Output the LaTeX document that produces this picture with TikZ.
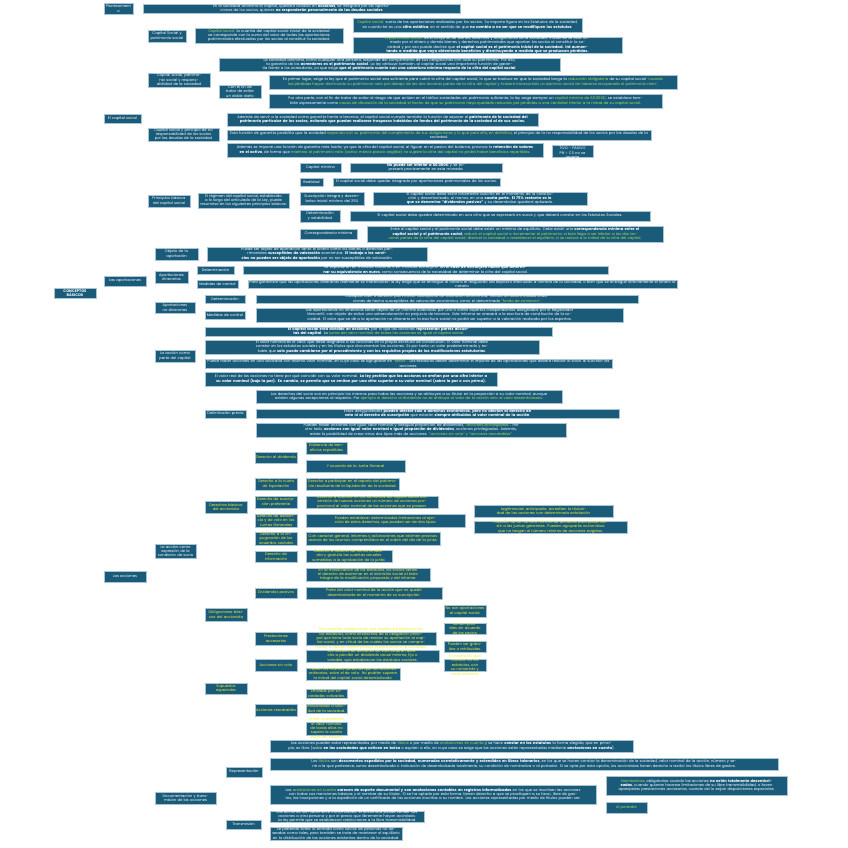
\documentclass[tikz,border=0pt]{standalone}
\usepackage{fontspec}
\setmainfont{Poppins}
\usetikzlibrary{calc}
\definecolor{boxc}{HTML}{1A5B7A}
\definecolor{edgec}{HTML}{A9C5D5}
\definecolor{linec}{HTML}{86A9BC}
\definecolor{grn}{HTML}{A6E05A}
\definecolor{ylw}{HTML}{F0F032}
\newcommand\hg[1]{\textcolor{grn}{#1}}
\pgfdeclarelayer{bg}
\pgfsetlayers{bg,main}
\tikzset{
  boxst/.style={draw=edgec,line width=0.6pt,fill=boxc,inner sep=0pt,outer sep=0pt},
  txt/.style={inner sep=0pt,outer sep=0pt,align=center,font=\fontsize{3.7}{4.4}\selectfont},
  conn/.style={draw=linec,line width=1.2pt,rounded corners=1.5pt}
}
% #1 text colour, #2 name, #3 x1, #4 y1, #5 x2, #6 y2, #7 text
\newcommand\mybx[7][white]{%
  \pgfmathsetmacro\bxcx{(#3+#5)/2}%
  \pgfmathsetmacro\bxcy{(#4+#6)/2}%
  \pgfmathsetmacro\bxw{#5-#3}%
  \pgfmathsetmacro\bxh{#6-#4}%
  \pgfmathsetmacro\bxtw{#5-#3-2}%
  \node[boxst,minimum width=\bxw pt,minimum height=\bxh pt] (#2) at (\bxcx,\bxcy) {};
  \node[txt,text=#1,text width=\bxtw pt] (#2-t) at (#2.center) {#7};
}
\newcommand\mycn[3]{\draw[conn] (#1.east) -- (#1.east -| #2) |- (#3.west);}
\newcommand\mylk[2]{\draw[conn] (#1.east) -- (#1.east -| #2.west);}
\begin{document}
\begin{tikzpicture}[x=1pt,y=-1pt]
\fill[white] (0,0) rectangle (848,848);
\useasboundingbox (0,0) rectangle (848,848);

% ---------- level 0 / 1 ----------
\mybx{root}{54}{288}{96}{298}{\textbf{CONCEPTOS BÁSICOS}}
\mybx{plan}{104}{3}{133}{14}{Planteamient\\o}
\mybx{cs}{104}{114}{141}{123}{El capital social}
\mybx{ap}{104}{276}{146}{286}{Las aportaciones}
\mybx{ac}{104}{571}{146}{582}{Las acciones}

\mybx{planT}{143}{4}{460}{13}{En la sociedad anónima el capital, quedará dividido en \textbf{acciones}, se integrará por las aportaciones de los socios, quienes \textbf{no responderán personalmente de las deudas sociales}}

% ---------- El capital social ----------
\mybx{csA}{148}{30}{186}{42}{Capital Social y patrimonio social}
\mybx{csB}{148}{73}{210}{87}{Capital social, patrimonio social y responsabilidad de la sociedad}
\mybx{csC}{148}{128}{219}{141}{Capital social y principio de no responsabilidad de los socios por las deudas de la sociedad}
\mybx{csD}{148}{195}{190}{207}{Principios básicos del capital social}

\mybx{csA1}{195}{28}{343}{43}{\hg{Capital social:} la cuantía del capital social inicial de la sociedad se corresponde con la suma del valor de todas las aportaciones patrimoniales efectuadas por los socios al constituir la sociedad.}
\mybx{csA1a}{353}{18}{582}{32}{\hg{Capital social:} suma de las aportaciones realizadas por los socios. Su importe figura en los Estatutos de la sociedad, en cuanto tal es una \textbf{cifra estática}, en el sentido de que \textbf{no cambia a no ser que se modifiquen los estatutos}.}
\mybx{csA1b}{353}{37}{622}{53}{\hg{El patrimonio social:} es el conjunto de bienes, derechos y obligaciones de la sociedad. Inicialmente está formado por el dinero y demás bienes y derechos patrimoniales que aportan los socios al constituir la sociedad y por eso puede decirse que \textbf{el capital social es el patrimonio inicial de la sociedad. Irá aumentando a medida que vaya obteniendo beneficios y disminuyendo a medida que se produzcan pérdidas.}}

\mybx{csB1}{219}{58}{560}{71}{La sociedad anónima, como cualquier otra persona, responde del cumplimiento de sus obligaciones con todo su patrimonio. Por ello, la garantía de los \textbf{acreedores es el patrimonio social}. La ley atribuye también, al capital social una importante función de garantía frente a los acreedores, ya que exige \textbf{que el patrimonio cuente con una cobertura mínima respecto de la cifra del capital social}.}
\mybx{csB2}{219}{85}{261}{98}{Con el fin de tratar de evitar un doble daño}
\mybx{csB2a}{269}{75}{677}{89}{En primer lugar, exige la ley que el patrimonio social sea suficiente para cubrir la cifra del capital social, lo que se traduce en que la sociedad tenga la \hg{reducción obligatoria} de su capital social \hg{“cuando las pérdidas hayan disminuido su patrimonio neto por debajo de las dos terceras partes de la cifra del capital y hubiere transcurrido un ejercicio social sin haberse recuperado el patrimonio neto”}.}
\mybx{csB2b}{269}{94}{662}{108}{Por otra parte, con el fin de tratar de evitar el riesgo de que actúen en el tráfico sociedades sin patrimonio suficiente, la ley exige siempre un \hg{capital mínimo de 60.000€}, se establece también expresamente como \hg{causa de disolución de la sociedad el hecho de que su patrimonio haya quedado reducido por pérdidas a una cantidad inferior a la mitad de su capital social}.}

\mybx{csC1}{227}{113}{538}{126}{Además de servir a la sociedad como garantía frente a terceros, el capital social cumple también la función de separar el \textbf{patrimonio de la sociedad del patrimonio particular de los socios, evitando que puedan realizarse traspasos indebidos de fondos del patrimonio de la sociedad al de sus socios.}}
\mybx{csC2}{227}{130}{651}{140}{Esta función de garantía posibilita que la sociedad \hg{responda con su patrimonio del cumplimiento de sus obligaciones y lo que para ella, en definitiva}, el principio de la no responsabilidad de los socios por las deudas de la sociedad.}
\mybx{csC3}{227}{143}{543}{157}{Además se impone una función de garantía más fuerte, ya que la cifra del capital social, al figurar en el pasivo del balance, provoca la \textbf{retención de valores en el activo}, de forma que \hg{mientras el patrimonio neto (activo menos pasivo exigible) no supere la cifra del capital no podrá haber beneficios repartibles.}}
\mybx{csC3a}{552}{145}{593}{157}{PN = ACTIVO - PASIVO\\PN < CS no se\\reparte}

\mybx{csD1}{198}{193}{289}{208}{El régimen del capital social, establecido a lo largo del articulado de la Ley, puede resumirse en los siguientes principios básicos:}
\mybx{pa}{300}{163}{341}{172}{Capital mínimo}
\mybx{pat}{350}{163}{502}{172}{\textbf{No puede ser inferior a 60.000€} y se expresará precisamente en esta moneda.}
\mybx{pb}{300}{178}{323}{186}{Realidad}
\mybx{pbt}{333}{178}{500}{186}{El capital social debe quedar integrado por aportaciones patrimoniales de los socios.}
\mybx{pc}{300}{192}{364}{205}{Suscripción íntegra y desembolso inicial mínimo del 25\%}
\mybx{pct}{373}{192}{587}{205}{El capital social debe estar totalmente suscrito en el momento de la constitución y desembolsado, al menos, en una \textbf{cuarta parte. El 75\% restante es lo que se denomina “dividendos pasivos”} y su desembolso quedará aplazado.}
\mybx{pd}{300}{210}{340}{222}{Determinación y estabilidad}
\mybx{pdt}{350}{211}{650}{221}{El capital social debe quedar determinado en una cifra que se expresará en euros y que deberá constar en los Estatutos Sociales.}
\mybx{pe}{300}{229}{357}{239}{Correspondencia mínima}
\mybx{pet}{367}{226}{663}{242}{Entre el capital social y el patrimonio social debe existir un mínimo de equilibrio. Debe existir una \textbf{correspondencia mínima entre el capital social y el patrimonio social}; \hg{reducir el capital social o incrementar el patrimonio, si éste llega a ser inferior a las dos terceras partes de la cifra del capital social; disolver la sociedad o restablecer el equilibrio, si se reduce a la mitad de la cifra del capital.}}

% ---------- Las aportaciones ----------
\mybx{apA}{155}{248}{198}{260}{Objeto de la aportación}
\mybx{apA1}{207}{247}{427}{261}{Puede ser objeto de aportación tanto el dinero como los bienes o derechos patrimoniales \textbf{susceptibles de valoración} económica. \textbf{El trabajo o los servicios no pueden ser objeto de aportación} por no ser susceptibles de valoración.}
\mybx{apB}{155}{271}{188}{283}{Aportaciones dinerarias}
\mybx{apB1}{197}{266}{234}{274}{Determinación}
\mybx{apB1t}{243}{266}{608}{274}{Se expresarán en moneda nacional o en moneda extranjera. \textbf{En el caso de extranjera habrá que determinar su equivalencia en euros}, como consecuencia de la necesidad de determinar la cifra del capital social.}
\mybx{apB2}{197}{280}{238}{288}{Medidas de control}
\mybx{apB2t}{248}{280}{677}{288}{Para garantizar que las aportaciones dinerarias realmente se materialicen la ley exige que se entregue al notario el resguardo del depósito efectuado a nombre de la sociedad, o bien que se entregue directamente el dinero al notario.}
\mybx{apC}{155}{302}{195}{313}{Aportaciones no dinerarias}
\mybx{apC1}{205}{295}{245}{303}{Determinación}
\mybx{apC1t}{256}{295}{638}{303}{Cualquier bien o derecho patrimonial susceptible de valoración económica. Incluso en determinadas situaciones de hecho susceptibles de valoración económica, como el denominado \hg{“fondo de comercio”}.}
\mybx{apC2}{205}{311}{245}{319}{Medidas de control}
\mybx{apC2t}{256}{308}{623}{322}{Las aportaciones no dinerarias serán objeto de un informe elaborado por uno o varios expertos independientes designados por el Registrador Mercantil, con objeto de evitar una sobrevaloración en perjuicio de terceros. Este informe se anexará a la escritura de constitución de la sociedad. El valor que se dé a la aportación no dineraria en la escritura social no podrá ser superior a la valoración realizada por los expertos.}

% ---------- Las acciones ----------
\mybx{acA}{155}{350}{195}{362}{La acción como parte del capital}
\mybx{acA1}{205}{327}{552}{336}{\textbf{El capital social está dividido en acciones}, por lo que las acciones \textbf{representan partes alícuotas del capital}. La \hg{suma del valor nominal de todas las acciones es igual al capital social}.}
\mybx{acA2}{205}{340}{539}{354}{El valor nominal es el valor que debe asignarse a las acciones en la propia escritura de constitución. El valor nominal debe constar en los estatutos sociales y en los títulos que documentan las acciones. Es por tanto un valor predeterminado y estable que \textbf{solo puede cambiarse por el procedimiento y con los requisitos propios de las modificaciones estatutarias}.}
\mybx{acA3}{205}{359}{612}{368}{Puede haber acciones en una sociedad con distinto valor nominal, en cuyo caso se agruparán en \hg{“series”}. Los estatutos deben determinar el importe de las aportaciones que deberá realizar el socio al suscribir las acciones.}
\mybx{acA4}{205}{372}{497}{386}{El valor real de las acciones no tiene por qué coincidir con su valor nominal. \textbf{La ley prohíbe que las acciones se emitan por una cifra inferior a su valor nominal (bajo la par). En cambio, se permite que se emitan por una cifra superior a su valor nominal (sobre la par o con prima).}}

\mybx{acB}{155}{544}{196}{558}{La acción como expresión de la condición de socio}
\mybx{acB1}{205}{410}{246}{418}{Delimitación previa}
\mybx{acB1a}{256}{390}{562}{403}{Los derechos del socio son en principio los mismos para todas las acciones y se atribuyen a su titular en la proporción a su valor nominal, aunque existen algunas excepciones al respecto. Por \hg{ejemplo el derecho al dividendo no se atribuye al valor de la acción sino al valor desembolsado}.}
\mybx{acB1b}{256}{409}{619}{418}{Estas desigualdades \textbf{pueden afectar solo a derechos económicos, pero no afectan al derecho de voto ni al derecho de suscripción} que estarán \textbf{siempre atribuidos al valor nominal de la acción}.}
\mybx{acB1c}{256}{423}{566}{437}{Pueden haber acciones con igual valor nominal y desigual proporción de dividendos, \hg{“acciones privilegiadas”}. Por otro lado, \textbf{acciones con igual valor nominal e igual proporción de dividendos}, acciones privilegiadas. Además, existe la posibilidad de crear otros dos tipos más de acciones: \hg{“acciones sin voto” y “acciones rescatables”}}

\mybx[ylw]{acB2}{205}{501}{247}{513}{Derechos básicos del accionista}
\mybx[ylw]{d1}{255}{452}{297}{463}{Derecho al dividendo}
\mybx[ylw]{d1a}{306}{442}{347}{454}{Existencia de beneficios repartibles}
\mybx[ylw]{d1b}{306}{460}{405}{472}{Y acuerdo de la Junta General}
\mybx[ylw]{d2}{255}{478}{297}{490}{Derecho a la cuota de liquidación}
\mybx[ylw]{d2a}{306}{478}{399}{490}{Derecho a participar en el reparto del patrimonio resultante de la liquidación de la sociedad.}
\mybx[ylw]{d3}{255}{496}{297}{508}{Derecho de suscripción preferente}
\mybx[ylw]{d3a}{306}{496}{438}{508}{Derecho a suscribir en los aumentos del capital social con emisión de nuevas acciones un número de acciones proporcional al valor nominal de las acciones que se posean.}
\mybx[ylw]{d4}{255}{514}{297}{527}{Derecho de asistencia y de voto en las Juntas Generales}
\mybx[ylw]{d4a}{306}{514}{465}{527}{Pueden establecer determinadas limitaciones al ejercicio de estos derechos, que pueden ser de dos tipos:}
\mybx[ylw]{d4a1}{474}{505}{613}{517}{Legitimación anticipada: acrediten la titularidad de las acciones con determinada antelación}
\mybx[ylw]{d4a2}{474}{521}{627}{533}{Posesión de un número mínimo de acciones para poder asistir a las juntas generales. Pueden agruparse accionistas que no tengan el número mínimo de acciones exigidas.}
\mybx[ylw]{d5}{255}{532}{297}{545}{Derecho a la impugnación de los acuerdos sociales}
\mybx[ylw]{d6}{255}{551}{297}{562}{Derecho de información}
\mybx[ylw]{d6a}{306}{532}{440}{545}{Con carácter general, informes y aclaraciones que estimen precisos acerca de los asuntos comprendidos en el orden del día de la junta.}
\mybx[ylw]{d6b}{306}{550}{392}{562}{Derecho a obtener de forma inmediata y gratuita las cuentas anuales sometidas a la aprobación de la junta.}
\mybx[ylw]{d6c}{306}{568}{430}{581}{En la modificación de los estatutos, los socios tienen el derecho de examinar en el domicilio social el texto íntegro de la modificación propuesta y del informe.}

\mybx[ylw]{acB3}{205}{608}{247}{621}{Obligaciones básicas del accionista}
\mybx[ylw]{o1}{255}{588}{297}{598}{Dividendos pasivos}
\mybx[ylw]{o1a}{306}{587}{442}{599}{Parte del valor nominal de la acción que no quedó desembolsada en el momento de su suscripción.}
\mybx[ylw]{o2}{255}{632}{297}{645}{Prestaciones accesorias}
\mybx[ylw]{o2a}{306}{632}{436}{645}{Son aquellas obligaciones que pueden establecerse en los estatutos, como accesorias de la obligación principal que tiene todo socio de realizar su aportación al capital social, y en virtud de las cuales los socios se comprometen a realizar determinadas prestaciones a la sociedad.}
\mybx[ylw]{o2a1}{444}{605}{486}{617}{No son aportaciones al capital social.}
\mybx[ylw]{o2a2}{444}{623}{486}{634}{No son posibles sin acuerdo de los socios.}
\mybx[ylw]{o2a3}{444}{641}{486}{652}{Pueden ser gratuitas o retribuidas.}
\mybx[ylw]{o2a4}{444}{659}{486}{671}{Es necesario que consten en los estatutos, con su contenido y características.}

\mybx[ylw]{acB4}{205}{683}{247}{694}{Supuestos especiales}
\mybx[ylw]{s1}{255}{659}{297}{671}{Acciones sin voto}
\mybx[ylw]{s1a}{306}{650}{439}{662}{Los titulares de acciones sin voto tendrán derecho a percibir un dividendo anual mínimo, fijo o variable, que establezcan los estatutos sociales.}
\mybx[ylw]{s1b}{306}{668}{400}{680}{Tienen los mismos derechos que las acciones ordinarias, salvo el de voto. No podrán superar la mitad del capital social desembolsado.}
\mybx[ylw]{s2}{255}{704}{297}{716}{Acciones rescatables}
\mybx[ylw]{s2a}{306}{689}{347}{698}{Emitidas por sociedades cotizadas.}
\mybx[ylw]{s2b}{306}{704}{347}{713}{Rescatables a solicitud de la sociedad.}
\mybx[ylw]{s2c}{306}{722}{347}{735}{Límite cuantitativo: el valor nominal de todas ellas no supera la cuarta parte del capital.}

\mybx{acC}{155}{792}{216}{804}{Documentación y transmisión de las acciones}
\mybx{r}{226}{767}{262}{777}{Representación}
\mybx{r1}{270}{740}{633}{752}{Las acciones pueden estar representadas por medio de \hg{títulos} o por medio de \hg{anotaciones en cuenta} y se hace \textbf{constar en los estatutos} la forma elegida, que en principio, es libre (salvo \textbf{en las sociedades que coticen en bolsa} o aspiren a ello, en cuyo caso se exige que las acciones estén representadas mediante \textbf{anotaciones en cuenta}).}
\mybx{r2}{270}{758}{778}{770}{Los \hg{títulos} son \textbf{documentos expedidos por la sociedad, numerados correlativamente y extendidos en libros talonarios}, en los que se hacen constar la denominación de la sociedad, valor nominal de la acción, número y serie a la que pertenece, suma desembolsada o indicación de desembolsada totalmente, su condición de nominativa o al portador. Si se opta por esta opción, los accionistas tienen derecho a recibir los títulos libres de gastos.}
\mybx{r3}{270}{785}{596}{804}{Las \hg{anotaciones en cuenta} \textbf{carecen de soporte documental y son anotaciones contables en registros informatizados} en los que se inscriben las acciones con todas sus menciones básicas y el nombre de su titular. Si se ha optado por esta forma, tienen derecho a que se practiquen a su favor, libre de gastos, las inscripciones y a la expedición de un certificado de las acciones inscritas a su nombre. Las acciones representadas por medio de títulos pueden ser:}
\mybx{r3a}{606}{776}{787}{795}{\hg{Nominativas}, obligatorias cuando las acciones \textbf{no estén totalmente desembolsadas}, cuando quieran hacerse limitaciones de su libre transmisibilidad, o lleven aparejadas prestaciones accesorias, cuando así lo exijan disposiciones especiales.}
\mybx{r3b}{606}{802}{647}{813}{\hg{Al portador}}
\mybx{t}{226}{820}{261}{829}{Transmisión}
\mybx{t1}{270}{811}{424}{822}{Las acciones son libremente transmisibles: el accionista puede vender sus acciones a otra persona y por el precio que libremente hayan acordado. La ley permite que se establezcan restricciones a la libre transmisibilidad.}
\mybx{t2}{270}{827}{402}{840}{Se pretende evitar la entrada como socios de personas no deseadas como tales, pero también se trata de mantener el equilibrio en la distribución de las acciones existentes dentro de la sociedad.}

% ---------- connectors ----------
\begin{pgfonlayer}{bg}
\coordinate (v0) at (100,0);
\coordinate (vplan) at (138,0);
\coordinate (vcs) at (144,0);
\coordinate (vcsA) at (191,0);
\coordinate (vcsA1) at (348,0);
\coordinate (vcsB) at (214,0);
\coordinate (vcsB2) at (265,0);
\coordinate (vcsC) at (223,0);
\coordinate (vcsC3) at (548,0);
\coordinate (vcsD) at (194,0);
\coordinate (vcsD1) at (295,0);
\coordinate (vap) at (150,0);
\coordinate (vapB) at (193,0);
\coordinate (vapC) at (200,0);
\coordinate (vacA) at (200,0);
\coordinate (vacB1) at (251,0);
\coordinate (vd) at (302,0);
\coordinate (vd4a) at (470,0);
\coordinate (vo2a) at (440,0);
\coordinate (vacC) at (221,0);
\coordinate (vr) at (266,0);
\coordinate (vr3) at (601,0);

\foreach \c in {plan,cs,ap,ac} {\mycn{root}{v0}{\c}}
\mycn{plan}{vplan}{planT}
\foreach \c in {csA,csB,csC,csD} {\mycn{cs}{vcs}{\c}}
\mycn{csA}{vcsA}{csA1}
\foreach \c in {csA1a,csA1b} {\mycn{csA1}{vcsA1}{\c}}
\foreach \c in {csB1,csB2} {\mycn{csB}{vcsB}{\c}}
\foreach \c in {csB2a,csB2b} {\mycn{csB2}{vcsB2}{\c}}
\foreach \c in {csC1,csC2,csC3} {\mycn{csC}{vcsC}{\c}}
\mycn{csC3}{vcsC3}{csC3a}
\mycn{csD}{vcsD}{csD1}
\foreach \c in {pa,pb,pc,pd,pe} {\mycn{csD1}{vcsD1}{\c}}
\mylk{pa}{pat}\mylk{pb}{pbt}\mylk{pc}{pct}\mylk{pd}{pdt}\mylk{pe}{pet}

\foreach \c in {apA,apB,apC} {\mycn{ap}{vap}{\c}}
\mylk{apA}{apA1}
\foreach \c in {apB1,apB2} {\mycn{apB}{vapB}{\c}}
\mylk{apB1}{apB1t}\mylk{apB2}{apB2t}
\foreach \c in {apC1,apC2} {\mycn{apC}{vapC}{\c}}
\mylk{apC1}{apC1t}\mylk{apC2}{apC2t}

\foreach \c in {acA,acB,acC} {\mycn{ac}{vap}{\c}}
\foreach \c in {acA1,acA2,acA3,acA4} {\mycn{acA}{vacA}{\c}}
\foreach \c in {acB1,acB2,acB3,acB4} {\mycn{acB}{vacA}{\c}}
\foreach \c in {acB1a,acB1b,acB1c} {\mycn{acB1}{vacB1}{\c}}
\foreach \c in {d1,d2,d3,d4,d5,d6} {\mycn{acB2}{vacB1}{\c}}
\foreach \c in {d1a,d1b} {\mycn{d1}{vd}{\c}}
\mylk{d2}{d2a}\mylk{d3}{d3a}\mylk{d4}{d4a}
\foreach \c in {d4a1,d4a2} {\mycn{d4a}{vd4a}{\c}}
\foreach \c in {d6a,d6b,d6c} {\mycn{d6}{vd}{\c}}
\foreach \c in {o1,o2} {\mycn{acB3}{vacB1}{\c}}
\mylk{o1}{o1a}\mylk{o2}{o2a}
\foreach \c in {o2a1,o2a2,o2a3,o2a4} {\mycn{o2a}{vo2a}{\c}}
\foreach \c in {s1,s2} {\mycn{acB4}{vacB1}{\c}}
\foreach \c in {s1a,s1b} {\mycn{s1}{vd}{\c}}
\foreach \c in {s2a,s2b,s2c} {\mycn{s2}{vd}{\c}}
\foreach \c in {r,t} {\mycn{acC}{vacC}{\c}}
\foreach \c in {r1,r2,r3} {\mycn{r}{vr}{\c}}
\foreach \c in {r3a,r3b} {\mycn{r3}{vr3}{\c}}
\foreach \c in {t1,t2} {\mycn{t}{vr}{\c}}
\end{pgfonlayer}
\end{tikzpicture}
\end{document}
